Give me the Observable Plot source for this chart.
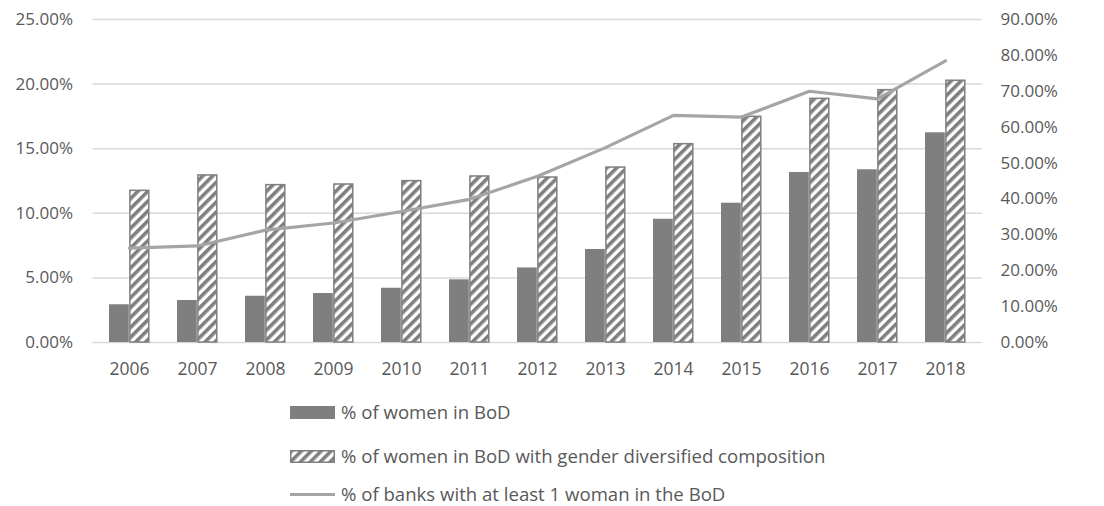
<!DOCTYPE html>
<html>
<head>
<meta charset="utf-8">
<script src="https://cdn.jsdelivr.net/npm/d3@7"></script>
<script src="https://cdn.jsdelivr.net/npm/@observablehq/plot@0.6"></script>
<style>
  html, body { margin: 0; padding: 0; background: #fff; }
  #wrap { position: relative; width: 1104px; height: 506px; font-family: "Open Sans", sans-serif; color: #595959; }
  .leg { position: absolute; left: 290px; height: 24px; line-height: 24px; font-size: 18.6px; display: flex; align-items: center; white-space: nowrap; }
  .sw { width: 45px; height: 13px; margin-right: 6px; box-sizing: border-box; }
</style>
</head>
<body>
<div id="wrap"></div>
<script>
const years = ["2006","2007","2008","2009","2010","2011","2012","2013","2014","2015","2016","2017","2018"];
const womenInBoD = [2.92, 3.25, 3.58, 3.79, 4.20, 4.85, 5.77, 7.20, 9.54, 10.78, 13.16, 13.37, 16.23];
const womenInDiversifiedBoD = [11.74, 12.93, 12.18, 12.23, 12.49, 12.85, 12.77, 13.54, 15.35, 17.47, 18.86, 19.53, 20.26];
const banksWithWoman = [26.3, 26.9, 31.3, 33.3, 36.5, 39.9, 46.3, 54.3, 63.3, 62.8, 70.0, 67.9, 78.5];
const leftTicks = [0, 5, 10, 15, 20, 25];
const rightTicks = [0, 10, 20, 30, 40, 50, 60, 70, 80, 90];
const seriesNames = [
  "% of women in BoD",
  "% of women in BoD with gender diversified composition",
  "% of banks with at least 1 woman in the BoD"
];

const leftMax = 25, rightMax = 90;
const toLeft = v => v * leftMax / rightMax;

const bars = years.map((y, i) => ({year: y, a: womenInBoD[i], b: womenInDiversifiedBoD[i]}));
const line = years.map((y, i) => ({year: y, v: toLeft(banksWithWoman[i])}));

const barColor = "#7f7f80";
const lineColor = "#a5a5a5";
const textColor = "#595959";

const chart = Plot.plot({
  width: 1104,
  height: 392,
  marginLeft: 92.5,
  marginRight: 122,
  marginTop: 19,
  marginBottom: 50,
  style: {fontFamily: "'Open Sans', sans-serif", fontSize: "17px", color: textColor, background: "transparent", overflow: "visible"},
  x: {domain: years, padding: 0, label: null},
  y: {domain: [0, leftMax], label: null},
  marks: [
    Plot.gridY(leftTicks, {stroke: "#d9d9d9", strokeOpacity: 1, strokeWidth: 1.5}),
    Plot.barY(bars, {x: "year", y: "a", fill: barColor, insetLeft: 14, insetRight: 34.2}),
    Plot.barY(bars, {x: "year", y: "b", fill: "url(#hatch)", stroke: barColor, strokeWidth: 1.5, insetLeft: 34.9, insetRight: 14.2}),
    Plot.line(line, {x: "year", y: "v", stroke: lineColor, strokeWidth: 3.2, curve: "linear"}),
    Plot.axisY(leftTicks, {anchor: "left", tickSize: 0, tickPadding: 20, fontVariant: "normal", tickFormat: d => d.toFixed(2) + "%", fill: textColor, label: null}),
    Plot.axisY(rightTicks.map(toLeft), {anchor: "right", tickSize: 0, tickPadding: 18, fontVariant: "normal", tickFormat: (d, i) => rightTicks[i].toFixed(2) + "%", fill: textColor, label: null}),
    Plot.axisX({tickSize: 0, tickPadding: 20, fontSize: 17.5, fill: textColor, label: null})
  ]
});

// hatch pattern definition
const ns = "http://www.w3.org/2000/svg";
const defs = document.createElementNS(ns, "defs");
defs.innerHTML = `<pattern id="hatch" patternUnits="userSpaceOnUse" width="7" height="7" patternTransform="rotate(45)">
  <rect width="7" height="7" fill="#ffffff"></rect>
  <rect width="3.6" height="7" fill="${barColor}"></rect>
</pattern>`;
chart.insertBefore(defs, chart.firstChild);

const wrap = document.getElementById("wrap");
wrap.appendChild(chart);

// legend
const legendTops = [400, 444, 482];
const swatchHTML = [
  `<div class="sw" style="background:${barColor}"></div>`,
  `<svg class="sw" width="45" height="13" style="margin-right:6px"><defs><pattern id="hatch2" patternUnits="userSpaceOnUse" width="7" height="7" patternTransform="rotate(45)"><rect width="7" height="7" fill="#fff"></rect><rect width="3.6" height="7" fill="${barColor}"></rect></pattern></defs><rect x="0.75" y="0.75" width="43.5" height="11.5" fill="url(#hatch2)" stroke="${barColor}" stroke-width="1.5"></rect></svg>`,
  `<svg width="45" height="13" style="margin-right:6px"><line x1="0" x2="45" y1="6.5" y2="6.5" stroke="${lineColor}" stroke-width="3.2"></line></svg>`
];
seriesNames.forEach((name, i) => {
  const row = document.createElement("div");
  row.className = "leg";
  row.style.top = legendTops[i] + "px";
  row.innerHTML = swatchHTML[i] + `<span>${name}</span>`;
  wrap.appendChild(row);
});
</script>
</body>
</html>
